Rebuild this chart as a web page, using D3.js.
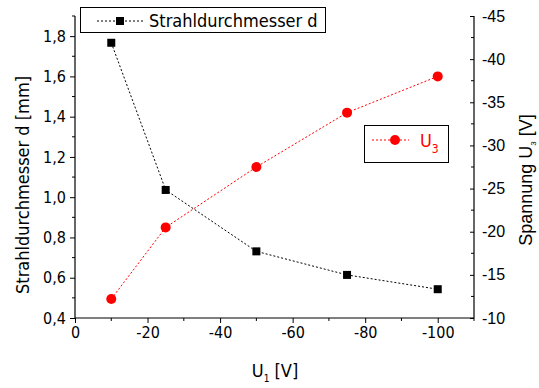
<!DOCTYPE html>
<html>
<head>
<meta charset="utf-8">
<script src="https://cdn.jsdelivr.net/npm/d3@7"></script>
<style>
  body { margin: 0; background: #fff; }
  svg text { fill: #000; }
</style>
</head>
<body>
<div id="chart"></div>
<script>
// data
const u1 = [-10, -25, -50, -75, -100];
const diameter = [1.767, 1.036, 0.731, 0.614, 0.543];
const u3 = [-12.2, -20.5, -27.5, -33.8, -38.0];

const xTicks = [0, -20, -40, -60, -80, -100];
const yLeftTicks = [0.4, 0.6, 0.8, 1.0, 1.2, 1.4, 1.6, 1.8];
const yRightTicks = [-10, -15, -20, -25, -30, -35, -40, -45];

const config = {
  width  : 539,
  height : 388,
  left   : 75,
  right  : 474,
  top    : 16,
  bottom : 318,
  tahoma : "'DejaVu Sans Condensed', 'DejaVu Sans', sans-serif",
  arial  : "'Liberation Sans', Arial, sans-serif"
};

const svg = d3.select("#chart")
  .append("svg")
    .attr("width", config.width)
    .attr("height", config.height);

const x = d3.scaleLinear().domain([0, -110]).range([config.left, config.right]);
const yL = d3.scaleLinear().domain([0.4, 1.9]).range([config.bottom, config.top]);
const yR = d3.scaleLinear().domain([-10, -45]).range([config.bottom, config.top]);

const fmtComma = d => d.toFixed(1).replace(".", ",");
const fmtInt = d => String(d); // plain hyphen minus like the original

// frame lines
svg.append("line")
  .attr("x1", config.left).attr("x2", config.left)
  .attr("y1", config.top).attr("y2", config.bottom)
  .attr("stroke", "#000").attr("stroke-width", 1.2);
svg.append("line")
  .attr("x1", config.right).attr("x2", config.right)
  .attr("y1", config.top).attr("y2", config.bottom)
  .attr("stroke", "#000").attr("stroke-width", 1.2);
svg.append("line")
  .attr("x1", config.left).attr("x2", config.right)
  .attr("y1", config.bottom).attr("y2", config.bottom)
  .attr("stroke", "#000").attr("stroke-width", 1.2);

// minor ticks
const minorX = d3.range(0, -111, -10).filter(v => v % 20 !== 0);
svg.append("g").selectAll("line")
  .data(minorX).enter().append("line")
    .attr("x1", d => x(d)).attr("x2", d => x(d))
    .attr("y1", config.bottom).attr("y2", config.bottom + 3)
    .attr("stroke", "#000");
const minorL = d3.range(0.5, 1.91, 0.2);
svg.append("g").selectAll("line")
  .data(minorL).enter().append("line")
    .attr("x1", config.left - 3).attr("x2", config.left)
    .attr("y1", d => yL(d)).attr("y2", d => yL(d))
    .attr("stroke", "#000");
const minorR = d3.range(-12.5, -45, -5);
svg.append("g").selectAll("line")
  .data(minorR).enter().append("line")
    .attr("x1", config.right - 3).attr("x2", config.right)
    .attr("y1", d => yR(d)).attr("y2", d => yR(d))
    .attr("stroke", "#000");

// axes
const xAxis = svg.append("g")
  .attr("transform", "translate(0," + config.bottom + ")")
  .call(d3.axisBottom(x).tickValues(xTicks).tickSize(5).tickPadding(4).tickFormat(fmtInt));
xAxis.select(".domain").remove();
xAxis.selectAll("text").style("font-family", config.tahoma).style("font-size", "16px");

const leftAxis = svg.append("g")
  .attr("transform", "translate(" + config.left + ",0)")
  .call(d3.axisLeft(yL).tickValues(yLeftTicks).tickSize(5).tickPadding(4).tickFormat(fmtComma));
leftAxis.select(".domain").remove();
leftAxis.selectAll("text").style("font-family", config.tahoma).style("font-size", "16px");

const rightAxis = svg.append("g")
  .attr("transform", "translate(" + config.right + ",0)")
  .call(d3.axisRight(yR).tickValues(yRightTicks).tickSize(-4).tickPadding(8).tickFormat(fmtInt));
rightAxis.select(".domain").remove();
rightAxis.selectAll("text").style("font-family", config.arial).style("font-size", "16px");

// axis titles
svg.append("text")
  .attr("transform", "translate(29,185) rotate(-90)")
  .attr("text-anchor", "middle")
  .style("font-family", config.tahoma).style("font-size", "18px")
  .text("Strahldurchmesser d [mm]");

const rt = svg.append("text")
  .attr("transform", "translate(532,180) rotate(-90)")
  .attr("text-anchor", "middle")
  .style("font-family", config.arial).style("font-size", "18px");
rt.append("tspan").text("Spannung U");
rt.append("tspan").attr("dy", 4).style("font-size", "8px").text("3");
rt.append("tspan").attr("dy", -4).text(" [V]");

const xt = svg.append("text")
  .attr("x", 275).attr("y", 377)
  .attr("text-anchor", "middle")
  .style("font-family", config.tahoma).style("font-size", "18px");
xt.append("tspan").text("U");
xt.append("tspan").attr("dy", 5).style("font-size", "10px").text("1");
xt.append("tspan").attr("dy", -5).text(" [V]");

// series lines
const lineD = d3.line().x((d, i) => x(u1[i])).y(d => yL(d));
const lineU = d3.line().x((d, i) => x(u1[i])).y(d => yR(d));

svg.append("path")
  .datum(diameter)
  .attr("d", lineD)
  .attr("fill", "none")
  .attr("stroke", "#000")
  .attr("stroke-width", 1)
  .attr("stroke-dasharray", "2,2");

svg.append("path")
  .datum(u3)
  .attr("d", lineU)
  .attr("fill", "none")
  .attr("stroke", "#ff0000")
  .attr("stroke-width", 1)
  .attr("stroke-dasharray", "2,2");

svg.append("g").selectAll("rect")
  .data(diameter).enter().append("rect")
    .attr("x", (d, i) => x(u1[i]) - 4)
    .attr("y", d => yL(d) - 4)
    .attr("width", 8).attr("height", 8)
    .attr("fill", "#000");

svg.append("g").selectAll("circle")
  .data(u3).enter().append("circle")
    .attr("cx", (d, i) => x(u1[i]))
    .attr("cy", d => yR(d))
    .attr("r", 5)
    .attr("fill", "#ff0000");

// legend for d
const lg1 = svg.append("g");
lg1.append("rect")
  .attr("x", 80.5).attr("y", 7.5).attr("width", 245).attr("height", 25)
  .attr("fill", "#fff").attr("stroke", "#000");
lg1.append("line")
  .attr("x1", 97).attr("x2", 143).attr("y1", 21).attr("y2", 21)
  .attr("stroke", "#000").attr("stroke-dasharray", "2,2");
lg1.append("rect")
  .attr("x", 116).attr("y", 17).attr("width", 8).attr("height", 8).attr("fill", "#000");
lg1.append("text")
  .attr("x", 149).attr("y", 27)
  .style("font-family", config.tahoma).style("font-size", "18px")
  .text("Strahldurchmesser d");

// legend for U3
const lg2 = svg.append("g");
lg2.append("rect")
  .attr("x", 364.5).attr("y", 125.5).attr("width", 84).attr("height", 37)
  .attr("fill", "#fff").attr("stroke", "#000");
lg2.append("line")
  .attr("x1", 372).attr("x2", 409).attr("y1", 140).attr("y2", 140)
  .attr("stroke", "#ff0000").attr("stroke-dasharray", "2,2");
lg2.append("circle")
  .attr("cx", 395).attr("cy", 140).attr("r", 5).attr("fill", "#ff0000");
const lt = lg2.append("text")
  .attr("x", 420).attr("y", 147)
  .style("font-family", config.tahoma).style("font-size", "18px")
  .style("fill", "#ff0000");
lt.append("tspan").text("U").style("fill", "#ff0000");
lt.append("tspan").attr("dy", 6).style("font-size", "12px").style("fill", "#ff0000").text("3");
</script>
</body>
</html>
